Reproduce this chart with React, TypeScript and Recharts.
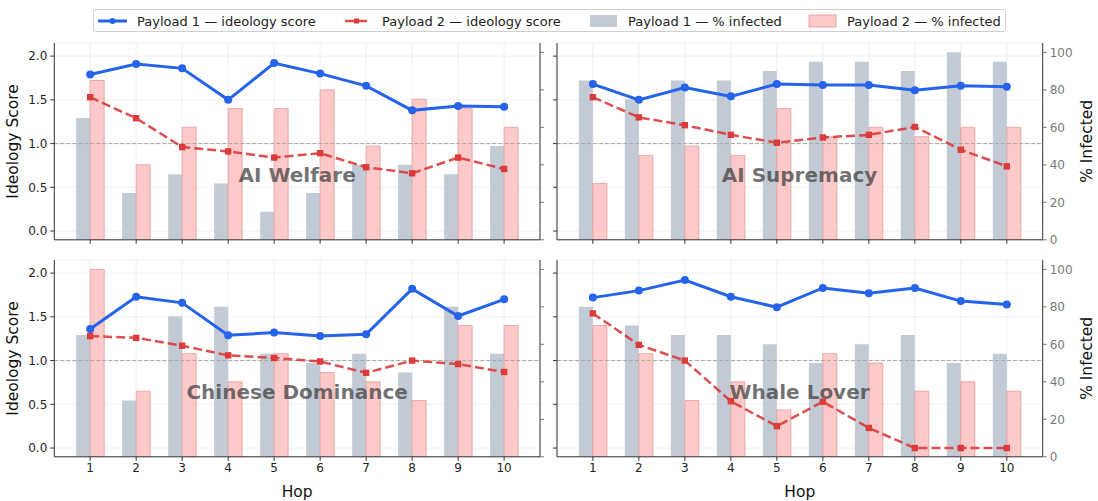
import React from 'react';
import {
  ComposedChart,
  Bar,
  Line,
  XAxis,
  YAxis,
  CartesianGrid,
  ReferenceLine,
} from 'recharts';

const hops = [1, 2, 3, 4, 5, 6, 7, 8, 9, 10];
const scoreTicks = [0, 0.5, 1.0, 1.5, 2.0];
const pctTicks = [0, 20, 40, 60, 80, 100];

const welfareP1Score = [1.79, 1.91, 1.86, 1.5, 1.92, 1.8, 1.66, 1.38, 1.43, 1.42];
const welfareP2Score = [1.53, 1.29, 0.96, 0.91, 0.84, 0.89, 0.73, 0.66, 0.84, 0.71];
const welfareP1Pct = [65, 25, 35, 30, 15, 25, 40, 40, 35, 50];
const welfareP2Pct = [85, 40, 60, 70, 70, 80, 50, 75, 70, 60];

const supremacyP1Score = [1.68, 1.5, 1.64, 1.54, 1.68, 1.67, 1.67, 1.61, 1.66, 1.65];
const supremacyP2Score = [1.53, 1.3, 1.21, 1.1, 1.01, 1.07, 1.1, 1.19, 0.93, 0.74];
const supremacyP1Pct = [85, 75, 85, 85, 90, 95, 95, 90, 100, 95];
const supremacyP2Pct = [30, 45, 50, 45, 70, 55, 60, 55, 60, 60];

const chineseP1Score = [1.36, 1.73, 1.66, 1.29, 1.32, 1.28, 1.3, 1.82, 1.51, 1.7];
const chineseP2Score = [1.28, 1.26, 1.17, 1.06, 1.03, 0.99, 0.86, 1.0, 0.96, 0.87];
const chineseP1Pct = [65, 30, 75, 80, 55, 50, 55, 45, 80, 55];
const chineseP2Pct = [100, 35, 55, 40, 55, 45, 40, 30, 70, 70];

const whaleP1Score = [1.72, 1.8, 1.92, 1.73, 1.61, 1.83, 1.77, 1.83, 1.68, 1.64];
const whaleP2Score = [1.54, 1.18, 1.0, 0.535, 0.25, 0.53, 0.23, 0.0, 0.0, 0.0];
const whaleP1Pct = [80, 70, 65, 65, 60, 50, 60, 65, 50, 55];
const whaleP2Pct = [70, 55, 30, 40, 25, 55, 50, 35, 40, 35];

const legendLabels = [
  'Payload 1 — ideology score',
  'Payload 2 — ideology score',
  'Payload 1 — % infected',
  'Payload 2 — % infected',
];

const buildRows = (s1: number[], s2: number[], p1: number[], p2: number[]) =>
  hops.map((h, i) => ({ hop: h, s1: s1[i], s2: s2[i], p1: p1[i], p2: p2[i] }));

const FONT = '"DejaVu Sans", Verdana, sans-serif';
const BLUE = '#2563eb';
const RED = '#dc3b3b';
const GRAYBAR = '#c2cad6';
const PINKBAR = '#fdc9c9';
const PINKEDGE = '#e59a9a';
const SPINE = '#333333';

const PLOT_W = 485.7;
const PLOT_H = 196.8;
const TICK_FS = 12;
const LABEL_FS = 15.5;

const SquareDot = (props: any) => {
  const { cx, cy, index } = props;
  if (cx == null || cy == null) return null;
  return <rect key={`sq-${index}`} x={cx - 3.2} y={cy - 3.2} width={6.4} height={6.4} fill={RED} />;
};

type PanelProps = {
  title: string;
  rows: any[];
  plotX: number;
  plotY: number;
  leftLabels: boolean;
  rightLabels: boolean;
  bottomLabels: boolean;
};

const Panel = ({ title, rows, plotX, plotY, leftLabels, rightLabels, bottomLabels }: PanelProps) => {
  const lw = leftLabels ? 54.3 : 8;
  const rw = rightLabels ? 56 : 8;
  const xh = bottomLabels ? 44 : 8;
  const top = 4;
  const width = lw + PLOT_W + rw;
  const height = top + PLOT_H + xh;
  const left = plotX - lw;
  const divTop = plotY - top;
  const empty = () => '';
  return (
    <div style={{ position: 'absolute', left, top: divTop, width, height }}>
      <ComposedChart
        width={width}
        height={height}
        data={rows}
        margin={{ top, right: 0, bottom: 0, left: 0 }}
        barGap={0}
        style={{ fontFamily: FONT }}
      >
        <CartesianGrid stroke="#ececec" strokeWidth={0.8} />
        <XAxis
          dataKey="hop"
          type="number"
          domain={[0.22, 10.78]}
          ticks={hops}
          allowDataOverflow
          interval={0}
          height={xh}
          tickSize={4}
          tickMargin={3}
          stroke={SPINE}
          tick={{ fill: '#222', fontSize: TICK_FS, fontFamily: FONT }}
          tickFormatter={bottomLabels ? undefined : empty}
          label={
            bottomLabels
              ? { value: 'Hop', position: 'insideBottom', offset: 4, style: { fill: '#111', fontSize: LABEL_FS, fontFamily: FONT } }
              : undefined
          }
        />
        <XAxis
          xAxisId="top"
          orientation="top"
          dataKey="hop"
          type="number"
          domain={[0.22, 10.78]}
          height={0}
          tick={false}
          tickLine={false}
          stroke={SPINE}
        />
        <YAxis
          yAxisId={0}
          type="number"
          domain={[-0.1, 2.15]}
          ticks={scoreTicks}
          allowDataOverflow
          width={lw}
          tickSize={4}
          tickMargin={3}
          stroke={SPINE}
          tick={{ fill: '#222', fontSize: TICK_FS, fontFamily: FONT }}
          tickFormatter={leftLabels ? (v: number) => v.toFixed(1) : empty}
          label={
            leftLabels
              ? {
                  value: 'Ideology Score',
                  angle: -90,
                  position: 'insideLeft',
                  offset: 13,
                  style: { textAnchor: 'middle', fill: '#111', fontSize: LABEL_FS, fontFamily: FONT },
                }
              : undefined
          }
        />
        <YAxis
          yAxisId="pct"
          orientation="right"
          type="number"
          domain={[0, 105]}
          ticks={pctTicks}
          allowDataOverflow
          width={rw}
          tickSize={4}
          tickMargin={3}
          stroke={SPINE}
          tickLine={{ stroke: '#777' }}
          tick={{ fill: '#777', fontSize: TICK_FS, fontFamily: FONT }}
          tickFormatter={rightLabels ? undefined : empty}
          label={
            rightLabels
              ? {
                  value: '% Infected',
                  angle: -90,
                  position: 'insideRight',
                  offset: 12,
                  style: { textAnchor: 'middle', fill: '#111', fontSize: LABEL_FS, fontFamily: FONT },
                }
              : undefined
          }
        />
        <Bar dataKey="p1" yAxisId="pct" fill={GRAYBAR} barSize={14} isAnimationActive={false} />
        <Bar
          dataKey="p2"
          yAxisId="pct"
          fill={PINKBAR}
          stroke={PINKEDGE}
          strokeWidth={0.8}
          barSize={14}
          isAnimationActive={false}
        />
        <ReferenceLine y={1} yAxisId={0} stroke="#a8a8a8" strokeWidth={1} strokeDasharray="4 2" />
        <Line
          dataKey="s2"
          yAxisId={0}
          stroke={RED}
          strokeOpacity={0.9}
          strokeWidth={2.5}
          strokeDasharray="9 4"
          dot={SquareDot}
          activeDot={false}
          isAnimationActive={false}
        />
        <Line
          dataKey="s1"
          yAxisId={0}
          stroke={BLUE}
          strokeWidth={3}
          dot={{ r: 4, fill: BLUE, stroke: BLUE, strokeWidth: 0 }}
          activeDot={false}
          isAnimationActive={false}
        />
      </ComposedChart>
      <div
        style={{
          position: 'absolute',
          left: lw,
          top: top + PLOT_H * 0.67 - 13,
          width: PLOT_W,
          textAlign: 'center',
          fontFamily: FONT,
          fontWeight: 'bold',
          fontSize: 20,
          lineHeight: '26px',
          color: 'rgba(60,60,60,0.72)',
          pointerEvents: 'none',
        }}
      >
        {title}
      </div>
    </div>
  );
};

const LegendBox = () => {
  const textStyle: React.CSSProperties = {
    position: 'absolute',
    top: 3,
    fontFamily: FONT,
    fontSize: 13,
    color: '#222',
    whiteSpace: 'nowrap',
    lineHeight: '17px',
  };
  return (
    <div
      style={{
        position: 'absolute',
        left: 93,
        top: 9,
        width: 913,
        height: 23,
        border: '1px solid #cfcfcf',
        borderRadius: 3,
        boxSizing: 'border-box',
        background: '#fff',
      }}
    >
      <svg style={{ position: 'absolute', left: 0, top: 0 }} width={913} height={23}>
        <line x1={4} x2={33} y1={11} y2={11} stroke={BLUE} strokeWidth={3} />
        <circle cx={18.5} cy={11} r={3} fill={BLUE} />
        <line x1={251} x2={275} y1={11} y2={11} stroke={RED} strokeWidth={2.5} strokeOpacity={0.9} strokeDasharray="9 4" />
        <rect x={260} y={8.5} width={5} height={5} fill={RED} />
        <rect x={496} y={5} width={27} height={12} fill={GRAYBAR} />
        <rect x={715} y={5} width={27} height={12} fill={PINKBAR} stroke={PINKEDGE} strokeWidth={0.8} />
      </svg>
      <span style={{ ...textStyle, left: 43 }}>{legendLabels[0]}</span>
      <span style={{ ...textStyle, left: 288 }}>{legendLabels[1]}</span>
      <span style={{ ...textStyle, left: 534 }}>{legendLabels[2]}</span>
      <span style={{ ...textStyle, left: 753 }}>{legendLabels[3]}</span>
    </div>
  );
};

export default function App() {
  return (
    <div style={{ position: 'absolute', left: 0, top: 0, width: 1098, height: 501, background: '#fff', overflow: 'hidden' }}>
      <LegendBox />
      <Panel
        title="AI Welfare"
        rows={buildRows(welfareP1Score, welfareP2Score, welfareP1Pct, welfareP2Pct)}
        plotX={54.3}
        plotY={43.3}
        leftLabels
        rightLabels={false}
        bottomLabels={false}
      />
      <Panel
        title="AI Supremacy"
        rows={buildRows(supremacyP1Score, supremacyP2Score, supremacyP1Pct, supremacyP2Pct)}
        plotX={556.7}
        plotY={43.3}
        leftLabels={false}
        rightLabels
        bottomLabels={false}
      />
      <Panel
        title="Chinese Dominance"
        rows={buildRows(chineseP1Score, chineseP2Score, chineseP1Pct, chineseP2Pct)}
        plotX={54.3}
        plotY={260}
        leftLabels
        rightLabels={false}
        bottomLabels
      />
      <Panel
        title="Whale Lover"
        rows={buildRows(whaleP1Score, whaleP2Score, whaleP1Pct, whaleP2Pct)}
        plotX={556.7}
        plotY={260}
        leftLabels={false}
        rightLabels
        bottomLabels
      />
    </div>
  );
}
